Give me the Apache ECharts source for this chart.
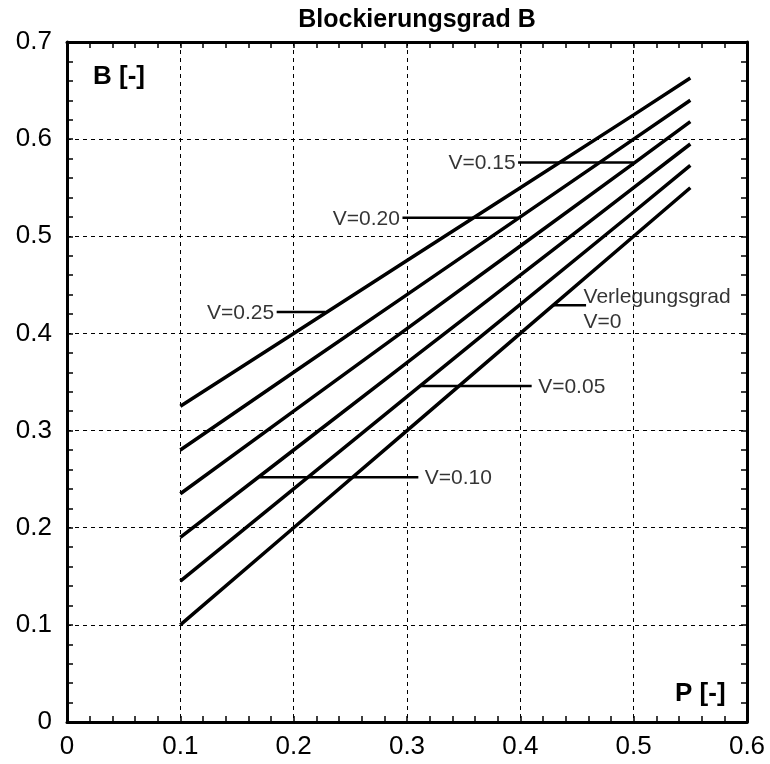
<!DOCTYPE html>
<html>
<head>
<meta charset="utf-8">
<script src="https://cdn.jsdelivr.net/npm/echarts@6/dist/echarts.min.js"></script>
<style>html,body{margin:0;padding:0;background:#fff}#c{width:770px;height:764px}</style>
</head>
<body>
<div id="c"></div>
<script>
// ---- data ----
var titleText = 'Blockierungsgrad B';
var xTicks = [0, 0.1, 0.2, 0.3, 0.4, 0.5, 0.6];
var yTicks = [0, 0.1, 0.2, 0.3, 0.4, 0.5, 0.6, 0.7];
var P = [0.1, 0.2, 0.3, 0.4, 0.5, 0.55];
var B_V000 = [0.100, 0.200, 0.300, 0.400, 0.500, 0.550];
var B_V005 = [0.145, 0.240, 0.335, 0.430, 0.525, 0.573];
var B_V010 = [0.190, 0.280, 0.370, 0.460, 0.550, 0.595];
var B_V015 = [0.235, 0.320, 0.405, 0.490, 0.575, 0.618];
var B_V020 = [0.280, 0.360, 0.440, 0.520, 0.600, 0.640];
var B_V025 = [0.325, 0.400, 0.475, 0.550, 0.625, 0.663];
var curves = [B_V000, B_V005, B_V010, B_V015, B_V020, B_V025];

// leader lines: [P_start, P_end, B]
var leaderV025 = [0.185, 0.228, 0.422];
var leaderV020 = [0.296, 0.398, 0.519];
var leaderV015 = [0.398, 0.500, 0.576];
var leaderV000 = [0.429, 0.458, 0.429];
var leaderV005 = [0.312, 0.410, 0.346];
var leaderV010 = [0.170, 0.310, 0.252];
var leaders = [leaderV025, leaderV020, leaderV015, leaderV000, leaderV005, leaderV010];

var labelTexts = ['V=0.25', 'V=0.20', 'V=0.15', 'Verlegungsgrad\nV=0', 'V=0.05', 'V=0.10'];
// which end of leader the label sits on
var labelSide = ['left', 'left', 'left', 'right', 'right', 'right'];

// ---- chart ----
var FONT = "'Liberation Sans', Arial, sans-serif";
var chart = echarts.init(document.getElementById('c'));
var series = [];
curves.forEach(function (arr) {
  series.push({
    type: 'line', data: P.map(function (p, i) { return [p, arr[i]]; }),
    showSymbol: false, symbol: 'none', silent: true,
    lineStyle: { color: '#000', width: 3.5 }, z: 5
  });
});
leaders.forEach(function (l) {
  series.push({
    type: 'line', data: [[l[0], l[2]], [l[1], l[2]]],
    showSymbol: false, symbol: 'none', silent: true,
    lineStyle: { color: '#000', width: 2.5 }, z: 4
  });
});
series.push({
  type: 'scatter', symbolSize: 1, itemStyle: { color: 'rgba(0,0,0,0)' }, silent: true, z: 6,
  data: leaders.map(function (l, i) {
    var left = labelSide[i] === 'left';
    var multi = labelTexts[i].indexOf('\n') >= 0;
    return {
      value: [left ? l[0] : l[1], l[2]],
      label: {
        show: true, formatter: labelTexts[i], position: left ? 'left' : 'right',
        distance: multi ? -3 : (left ? 2 : 6),
        offset: multi ? [0, 4] : [0, 1],
        color: '#000', fontSize: 21, fontFamily: FONT, lineHeight: 25, align: left ? 'right' : 'left',
        textBorderWidth: 0
      }
    };
  })
});

var axisCommon = {
  type: 'value',
  axisLine: { show: true, onZero: false, lineStyle: { color: '#000', width: 3 } },
  axisTick: { show: true, inside: true, length: 6, lineStyle: { color: '#000', width: 1.5 } },
  minorTick: { show: true, splitNumber: 5, length: 6, lineStyle: { color: '#000', width: 1.5 } },
  splitLine: { show: false },
  axisLabel: { show: false }
};
function ax(extra) { return Object.assign({}, JSON.parse(JSON.stringify(axisCommon)), extra); }

chart.setOption({
  animation: false,
  backgroundColor: '#fff',
  title: { text: titleText, left: 412, textAlign: 'center', top: 3,
    textStyle: { fontFamily: FONT, fontWeight: 'bold', fontSize: 25, color: '#000' } },
  grid: { left: 67, right: 23, top: 42, bottom: 42, containLabel: false },
  xAxis: [
    ax({ min: 0, max: 0.6, interval: 0.1, position: 'bottom',
      axisLabel: { show: true, margin: 12, fontSize: 26, fontFamily: FONT, color: '#000',
        formatter: function (v) { return String(+v.toFixed(1)); } },
      splitLine: { show: true, lineStyle: { color: '#000', width: 1, type: [4, 4] } } }),
    ax({ min: 0, max: 0.6, interval: 0.1, position: 'top' })
  ],
  yAxis: [
    ax({ min: 0, max: 0.7, interval: 0.1, position: 'left',
      axisLabel: { show: true, margin: 15, fontSize: 26, fontFamily: FONT, color: '#000',
        formatter: function (v) { return String(+v.toFixed(1)); } },
      splitLine: { show: true, lineStyle: { color: '#000', width: 1, type: [4, 4] } } }),
    ax({ min: 0, max: 0.7, interval: 0.1, position: 'right' })
  ],
  graphic: [
    { type: 'text', left: 93, top: 64, style: { text: 'B [-]', font: "bold 26px 'Liberation Sans', Arial", fill: '#000' }, z: 10 },
    { type: 'text', left: 675, top: 681, style: { text: 'P [-]', font: "bold 26px 'Liberation Sans', Arial", fill: '#000' }, z: 10 }
  ],
  series: series
});
</script>
</body>
</html>
